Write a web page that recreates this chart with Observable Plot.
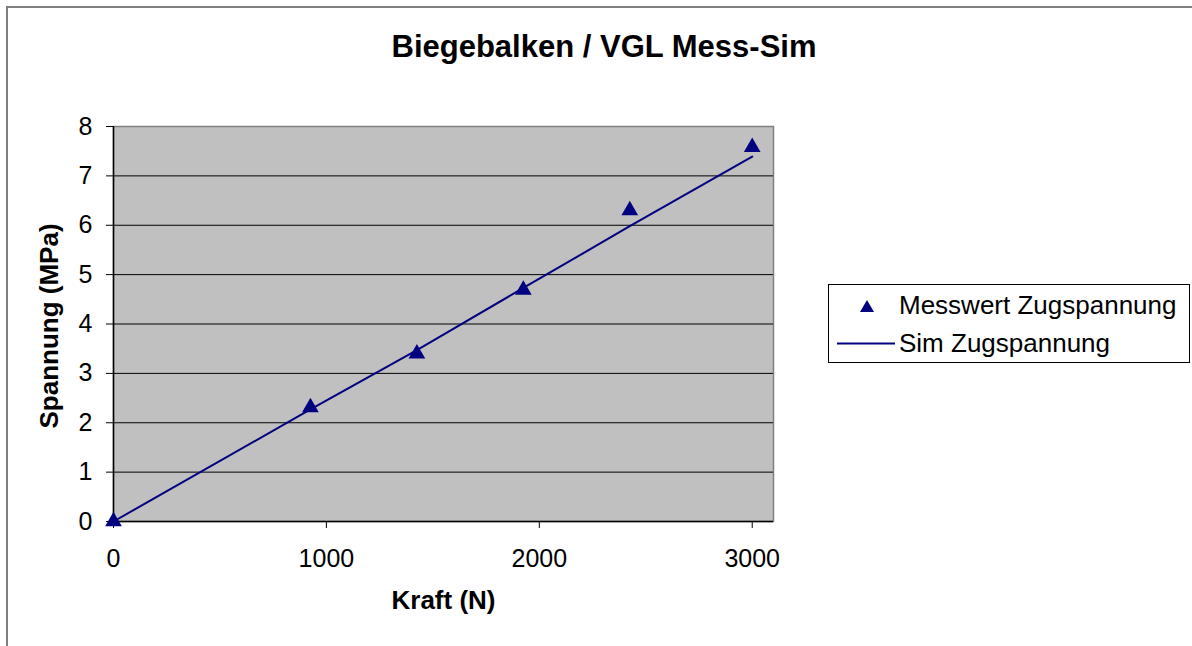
<!DOCTYPE html>
<html>
<head>
<meta charset="utf-8">
<script src="https://cdn.jsdelivr.net/npm/d3@7"></script>
<script src="https://cdn.jsdelivr.net/npm/@observablehq/plot@0.6"></script>
<style>
  html, body { margin: 0; padding: 0; background: #fff; overflow: hidden; }
  #wrap { position: relative; width: 1192px; height: 646px; font-family: "Liberation Sans", Arial, sans-serif; }
  #border { position: absolute; left: 6px; top: 6px; width: 1200px; height: 700px; border: 2px solid #7f7f7f; box-sizing: border-box; }
  #title { position: absolute; left: 304px; width: 600px; top: 31px; text-align: center; font-weight: bold; font-size: 31px; line-height: 32px; color: #000; }
  #legend { position: absolute; left: 828px; top: 284px; width: 362px; height: 79px; border: 1px solid #000; background: #fff; box-sizing: border-box; }
  .lrow { position: absolute; left: 0; width: 100%; height: 30px; }
  .lrow svg { position: absolute; left: 6px; top: 0; }
  .lrow span { position: absolute; left: 70px; top: 0; font-size: 26px; line-height: 30px; color: #000; white-space: nowrap; }
  #chart { position: absolute; left: 0; top: 0; }
</style>
</head>
<body>
<div id="wrap">
  <div id="border"></div>
  <div id="chart"></div>
  <div id="title"></div>
  <div id="legend"></div>
</div>
<script>
// ---- data ----
const title = "Biegebalken / VGL Mess-Sim";
const xLabel = "Kraft (N)";
const yLabel = "Spannung (MPa)";
const seriesNames = ["Messwert Zugspannung", "Sim Zugspannung"];
const kraft = [0, 925, 1425, 1925, 2425, 3000];
const messwert = [0, 2.31, 3.40, 4.69, 6.30, 7.58];
const sim = [0, 2.27, 3.47, 4.73, 5.98, 7.39];
const xTicks = [0, 1000, 2000, 3000];
const yTicks = [0, 1, 2, 3, 4, 5, 6, 7, 8];

const navy = "#000080";
const messData = kraft.map((k, i) => ({x: k, y: messwert[i]}));
const simData = kraft.map((k, i) => ({x: k, y: sim[i]}));

const chart = Plot.plot({
  width: 1192,
  height: 646,
  marginLeft: 113,
  marginTop: 126,
  marginRight: 419,
  marginBottom: 125,
  style: {fontSize: "25px", fontFamily: "Liberation Sans, Arial, sans-serif", background: "transparent", color: "#000"},
  x: {domain: [0, 3100]},
  y: {domain: [0, 8]},
  marks: [
    Plot.frame({fill: "#c0c0c0", stroke: "#808080", strokeWidth: 1.5}),
    Plot.ruleY(yTicks.filter(t => t > 0 && t < 8), {stroke: "#000", strokeWidth: 1}),
    Plot.ruleY([0], {stroke: "#000", strokeWidth: 1.5}),
    Plot.ruleX([0], {stroke: "#000", strokeWidth: 1.5}),
    Plot.axisX({ticks: xTicks, tickSize: 7, tickPadding: 21, tickFormat: d => String(d), label: null, stroke: "#000"}),
    Plot.axisY({ticks: yTicks, tickSize: 7, tickPadding: 14, tickFormat: d => String(d), label: null, stroke: "#000"}),
    Plot.line(simData, {x: "x", y: "y", stroke: navy, strokeWidth: 2}),
    Plot.dot(messData, {x: "x", y: "y", symbol: "triangle", r: 6.2, fill: navy, stroke: null}),
    Plot.text([xLabel], {frameAnchor: "bottom", dy: 87, text: d => d, fontWeight: "bold", fontSize: 26, fill: "#000"}),
    Plot.text([yLabel], {frameAnchor: "left", dx: -64, dy: 2, rotate: -90, textAnchor: "middle", text: d => d, fontWeight: "bold", fontSize: 26, fill: "#000"})
  ]
});
document.getElementById("chart").appendChild(chart);
document.getElementById("title").textContent = title;

// legend
const legend = document.getElementById("legend");
const rows = [
  {name: seriesNames[0], top: 5, svg: `<svg width="60" height="30"><path d="M32,10 L39,22 L25,22 Z" fill="${navy}"/></svg>`},
  {name: seriesNames[1], top: 43, svg: `<svg width="60" height="30"><line x1="2" y1="15.5" x2="60" y2="15.5" stroke="${navy}" stroke-width="2"/></svg>`}
];
rows.forEach(r => {
  const row = document.createElement("div");
  row.className = "lrow";
  row.style.top = r.top + "px";
  row.innerHTML = r.svg;
  const s = document.createElement("span");
  s.textContent = r.name;
  row.appendChild(s);
  legend.appendChild(row);
});
</script>
</body>
</html>
